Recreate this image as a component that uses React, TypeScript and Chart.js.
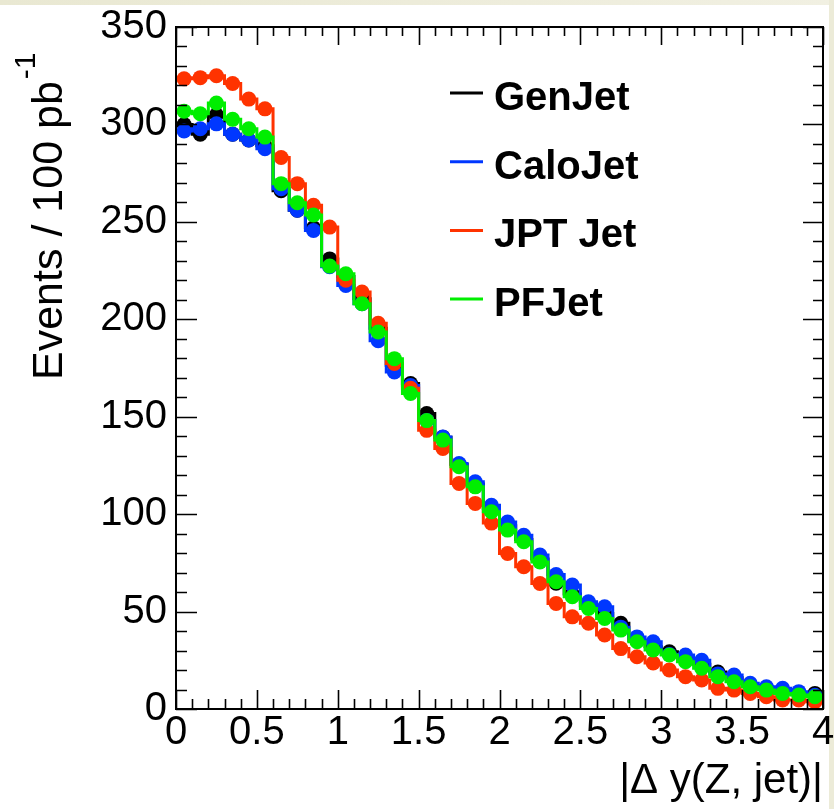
import React, { useEffect, useRef } from "react";
import { Chart, registerables } from "chart.js";

Chart.register(...registerables);

// Bin centres of |Δy(Z, jet)| (bin width 0.1)
const binCenters = [
  0.05, 0.15, 0.25, 0.35, 0.45, 0.55, 0.65, 0.75, 0.85, 0.95,
  1.05, 1.15, 1.25, 1.35, 1.45, 1.55, 1.65, 1.75, 1.85, 1.95,
  2.05, 2.15, 2.25, 2.35, 2.45, 2.55, 2.65, 2.75, 2.85, 2.95,
  3.05, 3.15, 3.25, 3.35, 3.45, 3.55, 3.65, 3.75, 3.85, 3.95,
];
const binHalfWidth = 0.05;

const genJet = [
  300, 295, 305, 295, 292, 289, 266, 256, 247, 231,
  222, 210.6, 195.4, 176.4, 167, 151.6, 139.5, 125.5, 115.5, 103,
  94, 87, 77, 64.5, 59, 53, 49, 44, 35, 32,
  29.4, 26, 23, 19, 16, 12, 10.5, 9, 8, 8,
];
const caloJet = [
  296.6, 297.8, 300.3, 295, 292, 287.5, 267, 256, 245.6, 227,
  217.4, 208, 189, 173, 166, 148, 139.6, 126, 116.6, 104.6,
  96, 89.2, 79, 69, 63.6, 55, 52.5, 42, 37, 34.5,
  28, 27.7, 25, 18, 17.4, 13.2, 11.4, 10.6, 8.9, 7,
];
const jptJet = [
  323.4, 324, 325, 321, 313, 308, 283, 269.6, 258.5, 247.3,
  220, 214, 198, 177.3, 164.6, 143, 133.7, 115.7, 105.5, 95.4,
  79.8, 73, 64.4, 54.2, 47.3, 44, 38, 31, 26.8, 23.6,
  20, 16.6, 14.9, 10.6, 9.7, 8, 6.3, 4.6, 4.6, 3.7,
];
const pfJet = [
  306.8, 305.5, 311, 302.6, 297.8, 293.5, 269.6, 259.8, 253.5, 227.3,
  223.4, 208, 193.5, 179.8, 161.9, 148, 138, 124.3, 114, 101.2,
  91.8, 85.8, 75.5, 65.3, 57.6, 51.6, 46.5, 40.5, 34.5, 30.3,
  27.7, 24.3, 20.9, 16.6, 14, 11.4, 9.7, 8, 7.2, 6.3,
];

const seriesNames = ["GenJet", "CaloJet", "JPT Jet", "PFJet"];
const seriesColors = ["#000000", "#0037ff", "#ff3300", "#00ee00"];
const seriesValues = [genJet, caloJet, jptJet, pfJet];
// drawing priority: higher = drawn on top
const seriesLayer = [0, 1, 2, 3];

const xMin = 0;
const xMax = 4;
const xStep = 0.5;
const yMin = 0;
const yMax = 350;
const yStep = 50;

const xTitle = "|\u0394 y(Z, jet)|";
const yTitleMain = "Events / 100 pb";
const yTitleSup = "-1";

const FONT = "'Liberation Sans', Arial, Helvetica, sans-serif";

function stepPoints(vals: number[]) {
  const pts = vals.map((v, i) => ({ x: binCenters[i] - binHalfWidth, y: v }));
  const last = vals.length - 1;
  pts.push({ x: binCenters[last] + binHalfWidth, y: vals[last] });
  return pts;
}

const decorPlugin = {
  id: "rootDecor",
  beforeDraw(chart: any) {
    const ctx = chart.ctx;
    ctx.save();
    ctx.fillStyle = "#ffffff";
    ctx.fillRect(0, 0, chart.width, chart.height);
    const g = ctx.createLinearGradient(0, 0, chart.width, 0);
    g.addColorStop(0, "#e9e8d2");
    g.addColorStop(1, "#f1f0e2");
    ctx.fillStyle = g;
    ctx.fillRect(0, 0, chart.width, 5);
    ctx.fillStyle = "#ecebd8";
    ctx.fillRect(chart.width - 5, 0, 5, chart.height);
    ctx.restore();
  },
  afterDraw(chart: any) {
    const ctx = chart.ctx;
    const { left, right, top, bottom } = chart.chartArea;
    const xs = chart.scales.x;
    const ys = chart.scales.y;
    ctx.save();
    ctx.strokeStyle = "#000";
    ctx.lineWidth = 2;
    ctx.strokeRect(left, top, right - left, bottom - top);
    ctx.lineWidth = 1.6;
    ctx.beginPath();
    // y ticks every 10, major every 50
    for (let v = yMin; v <= yMax + 1e-6; v += 10) {
      const y = Math.round(ys.getPixelForValue(v)) + 0.5;
      const major = Math.abs(v % 50) < 1e-6;
      ctx.moveTo(left, y);
      ctx.lineTo(left + (major ? 21 : 11), y);
      ctx.moveTo(right, y);
      ctx.lineTo(right - (major ? 20 : 10), y);
    }
    // x ticks every 0.1, major every 0.5
    for (let i = 0; i <= 40; i++) {
      const x = Math.round(xs.getPixelForValue(i / 10)) + 0.5;
      const major = i % 5 === 0;
      ctx.moveTo(x, bottom);
      ctx.lineTo(x, bottom - (major ? 19 : 10));
      ctx.moveTo(x, top);
      ctx.lineTo(x, top + (major ? 18 : 9));
    }
    ctx.stroke();

    // legend
    const legendY0 = 93;
    const legendDy = 68.7;
    seriesNames.forEach((name, i) => {
      const y = legendY0 + i * legendDy;
      ctx.strokeStyle = seriesColors[i];
      ctx.lineWidth = 3;
      ctx.beginPath();
      ctx.moveTo(450, y);
      ctx.lineTo(483, y);
      ctx.stroke();
      ctx.fillStyle = "#000";
      ctx.font = `bold 40px ${FONT}`;
      ctx.textAlign = "left";
      ctx.textBaseline = "alphabetic";
      ctx.fillText(name, 494, y + 17);
    });

    // x title
    ctx.fillStyle = "#000";
    ctx.font = `42px ${FONT}`;
    ctx.textAlign = "right";
    ctx.textBaseline = "alphabetic";
    ctx.fillText(xTitle, right, 793);

    // y title (rotated)
    ctx.save();
    ctx.translate(62, 380);
    ctx.rotate(-Math.PI / 2);
    ctx.font = `43px ${FONT}`;
    ctx.textAlign = "left";
    const w = ctx.measureText(yTitleMain).width;
    ctx.fillText(yTitleMain, 0, 0);
    ctx.font = `30px ${FONT}`;
    ctx.fillText(yTitleSup, w + 2, -27);
    ctx.restore();

    ctx.restore();
  },
};

export default function App() {
  const ref = useRef<HTMLCanvasElement | null>(null);
  useEffect(() => {
    if (!ref.current) return;
    const datasets: any[] = [];
    seriesValues.forEach((vals, i) => {
      datasets.push({
        type: "line",
        label: seriesNames[i] + " hist",
        data: stepPoints(vals),
        stepped: "before",
        borderColor: seriesColors[i],
        borderWidth: 3,
        pointRadius: 0,
        fill: false,
        order: 10 - seriesLayer[i] * 2,
      });
      datasets.push({
        type: "scatter",
        label: seriesNames[i],
        data: vals.map((v, k) => ({ x: binCenters[k], y: v })),
        pointStyle: "circle",
        pointRadius: 7.5,
        pointHoverRadius: 7.5,
        pointBackgroundColor: seriesColors[i],
        pointBorderColor: seriesColors[i],
        pointBorderWidth: 0,
        showLine: false,
        order: 9 - seriesLayer[i] * 2,
      });
    });
    const chart = new Chart(ref.current, {
      type: "scatter",
      data: { datasets },
      options: {
        responsive: false,
        maintainAspectRatio: false,
        devicePixelRatio: 1,
        animation: false,
        events: [],
        layout: { padding: { top: 27, right: 11, left: 0, bottom: 0 } },
        plugins: {
          legend: { display: false },
          tooltip: { enabled: false },
          title: { display: false },
        },
        scales: {
          x: {
            type: "linear",
            min: xMin,
            max: xMax,
            grid: { display: false, drawTicks: false },
            border: { display: false },
            ticks: {
              stepSize: xStep,
              autoSkip: false,
              maxRotation: 0,
              minRotation: 0,
              padding: 0,
              color: "#000",
              font: { family: FONT, size: 40 },
              callback: (v: any) => String(Math.round(Number(v) * 10) / 10),
            },
            afterFit(scale: any) {
              scale.height = 100;
              scale.paddingLeft = 0;
              scale.paddingRight = 0;
            },
          },
          y: {
            type: "linear",
            min: yMin,
            max: yMax,
            grid: { display: false, drawTicks: false },
            border: { display: false },
            ticks: {
              stepSize: yStep,
              padding: 9,
              color: "#000",
              font: { family: FONT, size: 40 },
            },
            afterFit(scale: any) {
              scale.width = 176;
              scale.paddingTop = 0;
              scale.paddingBottom = 0;
            },
          },
        },
      },
      plugins: [decorPlugin],
    } as any);
    return () => chart.destroy();
  }, []);
  return (
    <div style={{ position: "fixed", left: 0, top: 0, width: 834, height: 809, background: "#fff" }}>
      <canvas ref={ref} width={834} height={809} style={{ width: 834, height: 809, display: "block" }} />
    </div>
  );
}
